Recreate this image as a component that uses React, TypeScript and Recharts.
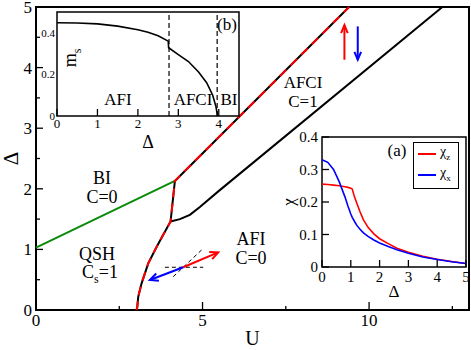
import React from "react";
import {
  Label,
  Legend,
  Line,
  LineChart,
  ReferenceArea,
  ReferenceLine,
  XAxis,
  YAxis
} from "recharts";

const FONT = "'Liberation Serif', 'Times New Roman', serif";
const txt = { fontFamily: FONT };

// ---- main phase diagram: U (x) vs Δ (y) ----
const uTicks = [0, 2.5, 5, 7.5, 10, 12.5];
const dTicks = [0, 0.5, 1, 1.5, 2, 2.5, 3, 3.5, 4, 4.5, 5];

// BI / QSH boundary (green)
const biQshU = [0, 4.17];
const biQshD = [1.03, 2.13];

// QSH -> AFI, then BI -> AFCI boundary (black with red dashes)
const afiEdgeU = [3.02, 3.04, 3.07, 3.17, 3.37, 3.62, 3.82, 4.04, 4.17, 9.4];
const afiEdgeD = [0, 0.05, 0.22, 0.44, 0.77, 1.04, 1.24, 1.46, 2.13, 5.0];

// AFCI / AFI boundary (black)
const afciEdgeU = [4.04, 4.32, 4.62, 4.92, 5.5, 12.2];
const afciEdgeD = [1.46, 1.5, 1.57, 1.7, 1.97, 5.0];

// spin arrows (up red, down blue)
const upShaftU = [9.26, 9.26];
const upShaftD = [4.13, 4.7];
const upHeadU = [9.16, 9.26, 9.36];
const upHeadD = [4.57, 4.7, 4.57];
const downShaftU = [9.66, 9.66];
const downShaftD = [4.68, 4.13];
const downHeadU = [9.56, 9.66, 9.76];
const downHeadD = [4.26, 4.13, 4.26];

// little x/y frame with spin vectors
const xAxisU = [3.87, 5.02];
const xAxisD = [0.705, 0.705];
const yAxisU = [4.12, 4.97];
const yAxisD = [0.55, 0.99];
const redVecU = [4.42, 5.47];
const redVecD = [0.705, 0.95];
const redHeadU = [5.2, 5.47, 5.29];
const redHeadD = [0.957, 0.95, 0.84];
const blueVecU = [4.42, 3.42];
const blueVecD = [0.705, 0.495];
const blueHeadU = [3.69, 3.42, 3.61];
const blueHeadD = [0.484, 0.495, 0.602];

// ---- inset (a): susceptibilities vs Δ ----
const chiDelta = [0, 0.2, 0.4, 0.6, 0.8, 0.9, 1.0, 1.05, 1.13, 1.21, 1.32, 1.44, 1.6, 1.8, 2.0, 2.3, 2.6, 3.0, 3.5, 4.0, 4.5, 5.0];
const chiZ = [0.255, 0.254, 0.252, 0.25, 0.247, 0.245, 0.242, 0.24, 0.215, 0.196, 0.17, 0.145, 0.122, 0.102, 0.087, 0.072, 0.058, 0.045, 0.033, 0.024, 0.017, 0.011];
const chiX = [0.33, 0.322, 0.3, 0.262, 0.215, 0.188, 0.163, 0.153, 0.14, 0.128, 0.116, 0.105, 0.094, 0.083, 0.074, 0.063, 0.053, 0.042, 0.031, 0.023, 0.016, 0.011];
const chiNames = ["χ_z", "χ_x"];
const chiXTicks = [0, 1, 2, 3, 4, 5];
const chiYTicks = [0, 0.1, 0.2, 0.3, 0.4];

// ---- inset (b): staggered magnetization vs Δ ----
const msDelta = [0, 0.5, 1, 1.5, 2, 2.25, 2.5, 2.75, 2.76, 3.0, 3.25, 3.5, 3.7, 3.85, 3.93, 3.97];
const ms = [0.448, 0.447, 0.443, 0.432, 0.415, 0.403, 0.386, 0.36, 0.328, 0.295, 0.262, 0.212, 0.16, 0.1, 0.045, 0];
const msBoundaries = [2.77, 3.96];
const msXTicks = [0, 1, 2, 3, 4];
const msYTicks = [0, 0.2, 0.4];

const pts = (xs: number[], ys: number[]) => xs.map((x, i) => ({ x, y: ys[i] }));

const chiData = chiDelta.map((d, i) => ({ d, chiZ: chiZ[i], chiX: chiX[i] }));
const msData = msDelta.map((d, i) => ({ d, ms: ms[i] }));

// inward ticks, labels outside
const bottomTick =
  (isMajor: (v: number) => boolean, len: number, minor: number, size: number, gap: number) =>
  (p: any) => {
    const v = p.payload.value;
    const major = isMajor(v);
    return (
      <g>
        {(major ? len : minor) > 0 && (
          <line x1={p.x} x2={p.x} y1={p.y} y2={p.y - (major ? len : minor)} stroke="#000" strokeWidth={1.3} />
        )}
        {major && (
          <text x={p.x} y={p.y + gap} dy="0.71em" textAnchor="middle" fontSize={size} style={txt} fill="#000">
            {v}
          </text>
        )}
      </g>
    );
  };

const leftTick =
  (isMajor: (v: number) => boolean, len: number, minor: number, size: number, gap: number) =>
  (p: any) => {
    const v = p.payload.value;
    const major = isMajor(v);
    return (
      <g>
        {(major ? len : minor) > 0 && (
          <line x1={p.x} x2={p.x + (major ? len : minor)} y1={p.y} y2={p.y} stroke="#000" strokeWidth={1.3} />
        )}
        {major && (
          <text x={p.x - gap} y={p.y} dy="0.35em" textAnchor="end" fontSize={size} style={txt} fill="#000">
            {v}
          </text>
        )}
      </g>
    );
  };

const renderLegend = (props: any) => {
  const items = [...(props.payload || [])].sort(
    (a: any, b: any) => chiNames.indexOf(a.value) - chiNames.indexOf(b.value)
  );
  return (
    <div
      style={{
        border: "1.5px solid #000",
        background: "#fff",
        padding: "1px 3px 2px 4px",
        fontFamily: FONT,
        fontSize: 14,
        lineHeight: "15px",
        width: 37
      }}
    >
      {items.map((e: any) => {
        const [base, sub] = String(e.value).split("_");
        return (
          <div key={e.value} style={{ display: "flex", alignItems: "center" }}>
            <svg width={18} height={4}>
              <line x1={0} x2={18} y1={2} y2={2} stroke={e.color} strokeWidth={2} />
            </svg>
            <span style={{ marginLeft: 4 }}>
              {base}
              <sub style={{ fontSize: 9 }}>{sub}</sub>
            </span>
          </div>
        );
      })}
    </div>
  );
};

const note = (left: number, top: number, size: number, content: React.ReactNode, key: string) => (
  <div
    key={key}
    style={{
      position: "absolute",
      left,
      top,
      transform: "translate(-50%, -50%)",
      fontFamily: FONT,
      fontSize: size,
      lineHeight: 1,
      whiteSpace: "nowrap",
      color: "#000"
    }}
  >
    {content}
  </div>
);

const lineProps = { dot: false, activeDot: false, isAnimationActive: false, type: "linear" as const };

export default function App() {
  return (
    <div style={{ position: "absolute", left: 0, top: 0, width: 471, height: 350, background: "#fff" }}>
      <div style={{ position: "absolute", left: 0, top: 0 }}>
        <LineChart width={471} height={350} margin={{ top: 7, right: 2, left: 0, bottom: 0 }}>
          <XAxis
            type="number"
            dataKey="x"
            domain={[0, 13]}
            ticks={uTicks}
            interval={0}
            axisLine={false}
            tickLine={false}
            tickSize={0}
            tickMargin={0}
            height={40}
            tick={bottomTick((v) => v % 5 === 0, 8, 4, 17, 4)}
          >
            <Label
              content={({ viewBox }: any) => (
                <text x={viewBox.x + viewBox.width / 2} y={viewBox.y + 35} textAnchor="middle" fontSize={20} style={txt}>
                  U
                </text>
              )}
            />
          </XAxis>
          <YAxis
            type="number"
            dataKey="y"
            domain={[0, 5]}
            ticks={dTicks}
            interval={0}
            axisLine={false}
            tickLine={false}
            tickSize={0}
            tickMargin={0}
            width={36}
            tick={leftTick((v) => Number.isInteger(v), 7, 4, 17, 4)}
          >
            <Label
              content={({ viewBox }: any) => {
                const cx = viewBox.x + 11;
                const cy = viewBox.y + viewBox.height / 2;
                return (
                  <text
                    x={cx}
                    y={cy}
                    dy="0.35em"
                    textAnchor="middle"
                    fontSize={21}
                    style={txt}
                    transform={`rotate(-90 ${cx} ${cy})`}
                  >
                    Δ
                  </text>
                );
              }}
            />
          </YAxis>
          <ReferenceArea x1={0} x2={13} y1={0} y2={5} fill="none" stroke="#000" strokeWidth={2} />

          <Line {...lineProps} data={pts(biQshU, biQshD)} dataKey="y" stroke="#0a8a0a" strokeWidth={2} />
          <Line {...lineProps} data={pts(afciEdgeU, afciEdgeD)} dataKey="y" stroke="#000" strokeWidth={2} />
          <Line {...lineProps} data={pts(afiEdgeU, afiEdgeD)} dataKey="y" stroke="#000" strokeWidth={2} />
          <Line {...lineProps} data={pts(afiEdgeU, afiEdgeD)} dataKey="y" stroke="#ff0000" strokeWidth={2} strokeDasharray="9 6" />

          <Line {...lineProps} data={pts(upShaftU, upShaftD)} dataKey="y" stroke="#ff0000" strokeWidth={2} />
          <Line {...lineProps} data={pts(upHeadU, upHeadD)} dataKey="y" stroke="#ff0000" strokeWidth={2} />
          <Line {...lineProps} data={pts(downShaftU, downShaftD)} dataKey="y" stroke="#0000ff" strokeWidth={2} />
          <Line {...lineProps} data={pts(downHeadU, downHeadD)} dataKey="y" stroke="#0000ff" strokeWidth={2} />

          <Line {...lineProps} data={pts(xAxisU, xAxisD)} dataKey="y" stroke="#000" strokeWidth={1} strokeDasharray="4 3" />
          <Line {...lineProps} data={pts(yAxisU, yAxisD)} dataKey="y" stroke="#000" strokeWidth={1} strokeDasharray="4 3" />
          <Line {...lineProps} data={pts(redVecU, redVecD)} dataKey="y" stroke="#ff0000" strokeWidth={2} />
          <Line {...lineProps} data={pts(redHeadU, redHeadD)} dataKey="y" stroke="#ff0000" strokeWidth={2} />
          <Line {...lineProps} data={pts(blueVecU, blueVecD)} dataKey="y" stroke="#0000ff" strokeWidth={2} />
          <Line {...lineProps} data={pts(blueHeadU, blueHeadD)} dataKey="y" stroke="#0000ff" strokeWidth={2} />
        </LineChart>
      </div>

      {note(102, 178, 18, "BI", "bi")}
      {note(102, 197, 18, "C=0", "bic")}
      {note(97, 254, 18, "QSH", "qsh")}
      {note(100, 274, 18, <>C<sub style={{ fontSize: 12 }}>s</sub>=1</>, "qshc")}
      {note(251, 239, 18, "AFI", "afi")}
      {note(251, 258, 18, "C=0", "afic")}
      {note(303, 82, 17, "AFCI", "afci")}
      {note(303, 101, 17, "C=1", "afcic")}

      {/* inset (b) */}
      <div style={{ position: "absolute", left: 35, top: 5 }}>
        <LineChart width={206} height={151} data={msData} margin={{ top: 7, right: 2, left: 0, bottom: 0 }}>
          <ReferenceArea x1={0} x2={4.5} y1={0} y2={0.5} fill="#fff" fillOpacity={1} stroke="#000" strokeWidth={1.5} />
          <XAxis
            type="number"
            dataKey="d"
            domain={[0, 4.5]}
            ticks={msXTicks}
            interval={0}
            axisLine={false}
            tickLine={false}
            tickSize={0}
            tickMargin={0}
            height={40}
            tick={bottomTick(() => true, 7, 7, 13, 3)}
          >
            <Label
              content={({ viewBox }: any) => (
                <text x={viewBox.x + viewBox.width / 2} y={viewBox.y + 32} textAnchor="middle" fontSize={18} style={txt}>
                  Δ
                </text>
              )}
            />
          </XAxis>
          <YAxis
            type="number"
            domain={[0, 0.5]}
            ticks={msYTicks}
            interval={0}
            axisLine={false}
            tickLine={false}
            tickSize={0}
            tickMargin={0}
            width={22}
            tick={leftTick(() => true, 0, 0, 11, 2)}
          >
            <Label
              content={({ viewBox }: any) => {
                const cx = viewBox.x + viewBox.width + 13;
                const cy = viewBox.y + 46;
                return (
                  <text
                    x={cx}
                    y={cy}
                    dy="0.35em"
                    textAnchor="middle"
                    fontSize={18}
                    style={txt}
                    transform={`rotate(-90 ${cx} ${cy})`}
                  >
                    m
                    <tspan fontSize={12} dy="5">s</tspan>
                  </text>
                );
              }}
            />
          </YAxis>
          {msBoundaries.map((b) => (
            <ReferenceLine key={b} x={b} stroke="#000" strokeWidth={1.2} strokeDasharray="5 3" />
          ))}
          <Line {...lineProps} dataKey="ms" stroke="#000" strokeWidth={1.6} />
        </LineChart>
      </div>
      {note(118, 99, 17, "AFI", "iafi")}
      {note(193, 99, 17, "AFCI", "iafci")}
      {note(229, 99, 17, "BI", "ibi")}
      {note(227, 24, 17, "(b)", "ib")}

      {/* inset (a) */}
      <div style={{ position: "absolute", left: 280, top: 130 }}>
        <LineChart width={189} height={177} data={chiData} margin={{ top: 7, right: 3, left: 0, bottom: 0 }}>
          <ReferenceArea x1={0} x2={5} y1={0} y2={0.4} fill="#fff" fillOpacity={1} stroke="#000" strokeWidth={1.5} />
          <XAxis
            type="number"
            dataKey="d"
            domain={[0, 5]}
            ticks={chiXTicks}
            interval={0}
            axisLine={false}
            tickLine={false}
            tickSize={0}
            tickMargin={0}
            height={40}
            tick={bottomTick(() => true, 7, 7, 15, 4)}
          >
            <Label
              content={({ viewBox }: any) => (
                <text x={viewBox.x + viewBox.width / 2} y={viewBox.y + 30} textAnchor="middle" fontSize={17} style={txt}>
                  Δ
                </text>
              )}
            />
          </XAxis>
          <YAxis
            type="number"
            domain={[0, 0.4]}
            ticks={chiYTicks}
            interval={0}
            axisLine={false}
            tickLine={false}
            tickSize={0}
            tickMargin={0}
            width={42}
            tick={leftTick(() => true, 7, 7, 15, 4)}
          >
            <Label
              content={({ viewBox }: any) => {
                const cx = viewBox.x + 8;
                const cy = viewBox.y + viewBox.height / 2;
                return (
                  <text
                    x={cx}
                    y={cy}
                    dy="0.35em"
                    textAnchor="middle"
                    fontSize={17}
                    style={txt}
                    transform={`rotate(-90 ${cx} ${cy})`}
                  >
                    χ
                  </text>
                );
              }}
            />
          </YAxis>
          <Legend
            layout="vertical"
            align="center"
            verticalAlign="middle"
            wrapperStyle={{ left: 133, top: 12, width: 45 }}
            content={renderLegend}
          />
          <Line {...lineProps} dataKey="chiZ" name={chiNames[0]} stroke="#ff0000" strokeWidth={1.6} />
          <Line {...lineProps} dataKey="chiX" name={chiNames[1]} stroke="#0000ff" strokeWidth={1.6} />
        </LineChart>
      </div>
      {note(397, 150, 17, "(a)", "ia")}
    </div>
  );
}
